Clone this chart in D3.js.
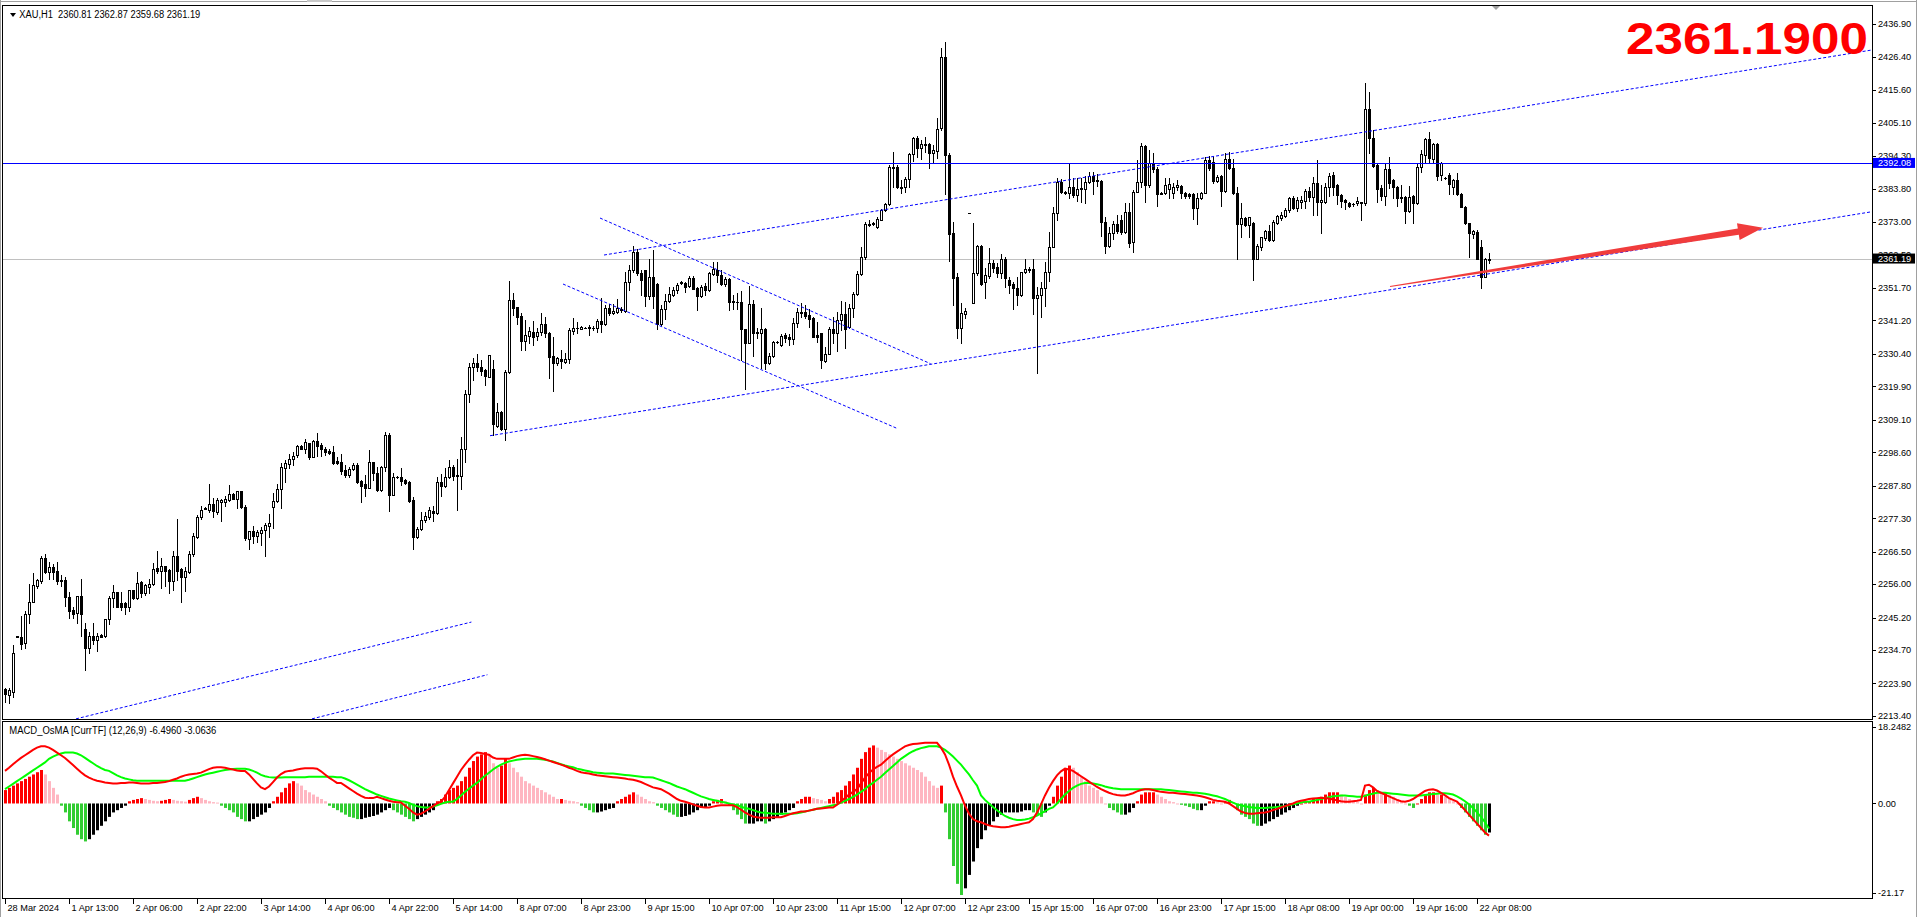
<!DOCTYPE html>
<html><head><meta charset="utf-8">
<script src="https://cdn.jsdelivr.net/npm/d3@7"></script>
<style>
html,body{margin:0;padding:0;background:#fff;overflow:hidden}
svg{display:block}
text{font-family:Tahoma,"Liberation Sans",Arial,sans-serif;white-space:pre}
</style></head><body>
<svg id="c" width="1920" height="917"></svg>
<script>
// ---------------- DATA ----------------
const open=[2222.0,2220.3,2221.2,2239.1,2238.8,2237.1,2246.2,2250.1,2255.5,2257.0,
2264.4,2260.0,2261.5,2260.2,2257.2,2257.2,2251.7,2247.8,2246.7,2252.3,
2241.4,2235.4,2239.4,2237.8,2239.5,2239.2,2244.6,2251.6,2253.6,2250.0,
2249.8,2248.6,2254.0,2251.4,2256.6,2253.2,2255.2,2255.9,2261.1,2260.3,
2261.8,2260.5,2257.1,2265.1,2260.9,2258.4,2260.0,2265.6,2271.3,2277.6,
2280.6,2280.1,2281.8,2279.3,2282.5,2282.4,2283.2,2285.1,2283.6,2286.1,
2280.8,2270.7,2273.1,2271.7,2272.4,2273.5,2274.9,2280.8,2282.8,2286.7,
2293.6,2294.7,2296.3,2297.6,2300.6,2299.8,2301.7,2297.2,2302.2,2301.1,
2299.5,2299.0,2298.7,2295.7,2295.5,2292.8,2291.2,2293.2,2294.5,2289.4,
2288.3,2286.9,2295.3,2292.0,2286.4,2293.7,2304.2,2284.8,2290.7,2290.5,
2289.6,2288.9,2283.2,2271.3,2273.7,2276.6,2277.8,2279.7,2278.9,2288.9,
2287.8,2290.7,2293.9,2291.2,2290.9,2299.5,2317.3,2326.0,2327.3,2326.2,
2325.1,2323.0,2325.5,2307.2,2311.7,2306.0,2324.4,2347.8,2345.4,2342.6,
2334.6,2336.3,2337.6,2336.1,2337.6,2340.2,2337.0,2329.7,2327.3,2328.7,
2327.9,2328.6,2337.9,2338.9,2338.5,2338.9,2339.0,2338.9,2338.6,2341.0,
2339.9,2345.1,2343.7,2344.0,2344.6,2344.4,2353.7,2357.5,2363.2,2356.4,
2357.5,2349.1,2355.1,2352.9,2340.2,2344.8,2347.5,2349.4,2351.0,2353.7,
2353.2,2352.3,2354.8,2351.8,2349.1,2352.3,2351.0,2356.1,2357.5,2355.9,
2352.9,2354.5,2347.5,2347.3,2347.2,2338.3,2334.0,2346.4,2337.3,2337.0,
2338.4,2327.5,2329.7,2334.3,2333.2,2336.5,2335.7,2335.1,2340.4,2343.5,
2344.0,2342.9,2342.0,2336.5,2337.0,2328.2,2330.5,2338.3,2337.0,2341.3,
2343.2,2339.2,2345.1,2349.7,2356.2,2361.6,2372.4,2372.6,2371.5,2373.8,
2376.9,2378.8,2390.9,2390.9,2384.2,2384.2,2386.9,2394.9,2400.0,2396.8,
2398.2,2398.2,2395.4,2396.0,2403.4,2426.2,2394.8,2369.3,2355.1,2338.6,
2343.3,2375.8,2346.9,2356.4,2365.2,2353.5,2355.7,2359.6,2358.3,2356.4,
2361.2,2354.3,2352.9,2351.6,2349.4,2356.7,2357.7,2357.7,2348.3,2349.4,
2351.6,2356.9,2365.0,2375.8,2386.0,2382.6,2382.5,2384.4,2381.7,2384.0,
2383.6,2386.0,2388.0,2386.5,2386.4,2372.9,2365.4,2369.3,2372.3,2373.8,
2369.9,2376.3,2366.4,2382.8,2386.0,2397.5,2384.9,2391.9,2390.0,2382.4,
2382.3,2383.6,2382.5,2384.2,2384.6,2382.3,2382.0,2382.0,2377.6,2380.6,
2382.5,2393.0,2392.5,2386.3,2387.8,2383.1,2393.2,2390.3,2382.5,2372.2,
2374.4,2372.0,2372.8,2361.2,2365.0,2367.7,2370.1,2367.2,2372.8,2374.2,
2375.0,2376.9,2380.9,2377.6,2379.6,2379.8,2383.1,2381.2,2385.5,2379.4,
2379.6,2384.4,2388.2,2384.9,2381.7,2380.1,2379.2,2378.9,2379.0,2379.6,
2379.2,2409.4,2400.2,2391.4,2383.9,2381.4,2390.0,2386.5,2384.4,2381.2,
2381.2,2376.7,2381.4,2379.0,2390.9,2394.7,2399.7,2393.2,2398.2,2388.2,
2387.3,2388.2,2384.4,2386.6,2382.0,2377.9,2372.6,2369.1,2369.9,2364.8,
2355.3,2360.81];
const high=[2222.5,2222.3,2236.3,2239.2,2245.7,2247.3,2256.2,2259.5,2257.5,2265.1,
2265.7,2263.2,2262.5,2263.0,2258.9,2258.2,2253.3,2248.7,2252.3,2257.6,
2243.6,2240.5,2243.3,2240.1,2240.0,2244.6,2252.1,2255.7,2253.6,2253.6,
2250.3,2254.0,2254.0,2259.8,2257.0,2256.2,2257.5,2262.7,2266.7,2264.6,
2262.0,2261.0,2266.8,2277.0,2261.1,2261.6,2266.7,2272.6,2278.3,2281.2,
2280.8,2288.3,2283.7,2283.9,2283.5,2284.6,2288.0,2285.3,2286.1,2286.1,
2281.5,2273.1,2274.8,2273.5,2274.5,2275.8,2278.8,2285.4,2288.2,2295.0,
2296.1,2297.9,2298.8,2301.1,2300.8,2302.9,2301.7,2302.5,2304.9,2301.5,
2300.4,2299.5,2300.6,2297.2,2297.9,2294.5,2294.0,2295.2,2295.0,2289.8,
2291.2,2299.3,2295.5,2294.0,2294.1,2305.2,2304.9,2291.8,2291.0,2293.4,
2290.0,2289.4,2284.0,2274.5,2279.2,2279.4,2281.0,2281.2,2290.5,2291.6,
2293.4,2296.1,2294.5,2296.3,2303.6,2318.7,2327.5,2328.9,2330.3,2328.4,
2325.4,2330.0,2328.4,2314.4,2311.9,2325.2,2353.9,2350.2,2345.6,2343.7,
2341.3,2339.2,2341.0,2338.6,2343.5,2342.4,2337.6,2335.7,2329.5,2331.6,
2330.6,2338.6,2341.9,2340.8,2339.4,2339.2,2339.7,2339.4,2341.5,2348.3,
2346.2,2346.5,2346.5,2348.0,2345.5,2356.9,2359.1,2365.2,2364.2,2357.5,
2357.5,2360.9,2364.1,2353.2,2346.2,2349.7,2352.1,2352.1,2353.2,2354.0,
2353.7,2355.5,2355.5,2352.1,2352.6,2353.2,2356.9,2360.1,2360.1,2357.5,
2355.3,2354.8,2349.4,2349.9,2350.8,2338.5,2352.3,2347.8,2338.9,2345.1,
2338.9,2330.8,2334.6,2334.6,2336.7,2337.0,2336.8,2342.1,2345.3,2346.7,
2346.2,2344.8,2342.4,2340.8,2337.2,2332.7,2339.2,2342.4,2344.0,2347.5,
2347.2,2346.5,2350.3,2357.3,2364.8,2373.0,2373.5,2373.0,2374.7,2377.2,
2379.2,2391.4,2395.7,2391.4,2386.6,2387.6,2395.4,2400.6,2400.8,2399.5,
2400.4,2398.4,2397.9,2406.5,2429.1,2431.2,2395.2,2373.1,2356.6,2346.7,
2345.1,2375.8,2372.8,2365.6,2365.6,2358.0,2364.5,2360.7,2359.6,2362.6,
2361.8,2355.3,2353.7,2355.3,2356.9,2361.2,2358.3,2360.9,2352.1,2353.7,
2360.2,2369.9,2377.9,2387.1,2386.9,2382.9,2392.2,2387.3,2387.3,2387.1,
2387.9,2389.3,2389.3,2388.5,2386.6,2374.7,2371.5,2373.4,2375.2,2375.2,
2379.0,2379.0,2383.3,2393.0,2398.4,2397.9,2396.2,2395.2,2390.9,2382.6,
2387.1,2387.1,2385.5,2386.6,2384.9,2382.8,2382.5,2382.3,2382.3,2382.8,
2393.9,2394.4,2394.3,2388.2,2388.2,2395.2,2395.7,2393.2,2384.4,2379.0,
2374.7,2374.7,2373.1,2365.9,2368.2,2370.4,2372.0,2373.6,2375.3,2376.3,
2377.4,2381.2,2381.4,2381.0,2381.4,2383.5,2384.2,2387.4,2393.0,2384.9,
2385.5,2388.7,2389.3,2385.2,2382.0,2380.3,2379.6,2379.2,2381.2,2379.6,
2418.0,2415.1,2402.7,2391.7,2384.9,2392.2,2394.0,2386.8,2384.6,2384.9,
2381.4,2384.6,2381.7,2392.0,2396.3,2400.0,2402.2,2398.4,2398.4,2392.5,
2387.5,2388.7,2386.8,2388.7,2382.3,2378.2,2372.8,2370.4,2370.4,2367.2,
2361.3,2362.87];
const low=[2218.0,2217.7,2219.6,2238.8,2234.9,2235.4,2243.6,2250.1,2254.8,2256.5,
2259.5,2257.7,2257.8,2256.2,2255.5,2249.0,2245.2,2245.2,2243.3,2239.2,
2228.4,2233.6,2236.8,2234.5,2238.8,2238.8,2243.1,2248.5,2248.5,2247.8,
2246.4,2247.4,2251.1,2251.2,2251.9,2252.5,2253.0,2255.7,2259.5,2254.8,
2255.5,2253.0,2254.1,2257.3,2250.3,2253.9,2259.5,2265.0,2270.8,2277.2,
2280.2,2279.4,2277.8,2278.8,2276.5,2281.2,2282.9,2283.6,2280.7,2280.5,
2270.4,2267.4,2269.4,2269.5,2268.5,2265.2,2271.3,2274.0,2282.4,2280.7,
2288.9,2293.6,2294.5,2297.2,2299.5,2298.4,2296.3,2297.0,2297.4,2297.4,
2297.7,2297.9,2294.8,2294.8,2291.6,2290.7,2290.7,2292.9,2288.8,2282.6,
2284.4,2286.9,2289.6,2286.2,2286.2,2292.6,2279.7,2284.8,2290.3,2288.0,
2288.3,2282.6,2267.4,2270.8,2273.5,2276.2,2276.9,2276.5,2278.6,2284.6,
2287.5,2290.2,2289.8,2279.9,2286.6,2295.5,2314.9,2322.1,2324.9,2323.6,
2320.3,2322.8,2304.2,2306.9,2305.8,2302.5,2324.1,2342.9,2339.9,2331.6,
2331.6,2333.8,2333.2,2334.9,2336.5,2335.9,2322.7,2318.5,2326.8,2325.7,
2327.3,2327.5,2336.8,2337.0,2338.3,2338.6,2336.5,2338.1,2337.6,2337.6,
2339.7,2342.9,2343.3,2343.5,2343.9,2344.0,2351.0,2356.9,2355.9,2349.4,
2345.9,2348.0,2345.1,2338.3,2339.7,2341.5,2347.3,2349.1,2350.0,2353.0,
2350.5,2352.1,2351.2,2344.6,2348.9,2349.4,2350.8,2355.9,2353.7,2352.6,
2352.3,2344.6,2344.8,2344.8,2328.4,2319.2,2334.0,2329.8,2335.4,2325.7,
2325.4,2327.1,2329.5,2333.9,2332.9,2334.3,2333.2,2333.6,2339.2,2342.4,
2341.9,2339.0,2335.7,2334.3,2325.7,2327.9,2330.3,2334.0,2331.4,2338.1,
2332.2,2338.6,2342.4,2349.4,2355.9,2361.0,2371.8,2372.0,2370.9,2373.6,
2376.7,2378.5,2384.4,2383.9,2382.5,2382.8,2384.4,2392.8,2394.1,2393.2,
2395.7,2390.3,2391.9,2393.6,2402.7,2382.2,2360.5,2346.2,2335.4,2333.8,
2341.9,2375.8,2346.9,2355.9,2352.6,2348.3,2354.8,2356.9,2355.1,2354.8,
2352.1,2349.9,2344.8,2346.2,2349.1,2356.4,2356.9,2343.3,2324.1,2342.4,
2345.9,2354.0,2365.0,2373.6,2382.3,2382.2,2380.6,2381.2,2379.9,2379.6,
2379.2,2385.7,2382.0,2384.6,2368.6,2362.9,2365.0,2367.4,2369.3,2369.1,
2369.3,2365.0,2363.4,2382.6,2384.4,2379.5,2384.4,2389.2,2378.2,2382.0,
2382.0,2380.6,2380.6,2383.3,2380.9,2380.6,2380.6,2373.9,2372.3,2380.3,
2382.3,2389.8,2385.5,2386.0,2378.2,2382.6,2390.0,2382.0,2360.9,2368.2,
2371.7,2368.2,2354.2,2360.9,2363.9,2367.2,2367.0,2367.0,2372.4,2373.6,
2374.7,2376.3,2377.2,2376.5,2377.4,2377.4,2379.9,2375.3,2375.3,2369.5,
2379.2,2381.4,2381.7,2378.8,2377.7,2377.1,2377.7,2378.3,2378.5,2373.6,
2378.5,2395.2,2390.9,2379.6,2380.1,2378.5,2384.0,2380.6,2378.2,2379.6,
2372.8,2376.3,2372.8,2378.8,2389.3,2392.2,2392.5,2392.5,2386.6,2386.6,
2386.9,2382.0,2382.2,2381.7,2377.7,2372.3,2361.8,2367.7,2361.2,2351.6,
2355.1,2359.68];
const close=[2220.5,2221.8,2233.9,2238.9,2236.8,2246.5,2250.1,2255.7,2257.2,2264.4,
2260.0,2261.5,2260.0,2257.0,2257.1,2251.7,2247.4,2246.3,2252.3,2246.4,
2235.4,2239.4,2237.8,2239.2,2239.0,2244.6,2251.4,2253.3,2248.5,2248.7,
2248.7,2254.0,2251.4,2256.5,2253.2,2255.7,2256.2,2260.9,2260.3,2261.9,
2260.3,2257.1,2265.1,2260.3,2258.4,2260.2,2265.6,2271.5,2277.6,2280.1,
2280.4,2281.8,2279.7,2283.2,2283.2,2283.5,2285.0,2283.6,2286.1,2280.8,
2271.0,2273.1,2271.7,2272.8,2273.5,2275.0,2275.6,2282.8,2286.7,2293.8,
2295.1,2296.3,2297.4,2300.6,2299.8,2301.8,2297.2,2302.2,2300.6,2299.5,
2298.8,2298.5,2295.0,2295.2,2292.6,2291.2,2293.1,2294.5,2289.1,2287.7,
2286.9,2295.3,2291.8,2286.4,2293.7,2304.2,2284.8,2290.7,2290.5,2289.4,
2288.8,2282.9,2271.3,2273.7,2276.7,2278.0,2279.9,2278.9,2288.9,2287.8,
2290.7,2293.7,2290.9,2290.9,2299.5,2317.3,2326.0,2327.3,2326.0,2324.9,
2323.2,2330.0,2307.6,2311.5,2306.0,2324.4,2347.8,2345.3,2342.2,2334.5,
2336.4,2337.8,2335.9,2337.6,2340.2,2337.0,2329.3,2327.3,2328.9,2328.1,
2328.7,2338.1,2338.9,2338.8,2339.2,2338.9,2338.9,2338.7,2341.0,2339.9,
2345.1,2343.7,2344.3,2345.1,2344.8,2353.7,2357.5,2363.2,2356.4,2354.2,
2349.1,2355.1,2349.1,2340.2,2344.8,2347.5,2349.7,2351.0,2352.6,2353.3,
2352.1,2354.8,2351.2,2349.1,2352.1,2351.0,2356.4,2357.8,2355.9,2352.9,
2354.5,2347.2,2347.0,2347.0,2338.3,2334.0,2346.4,2337.0,2337.2,2338.4,
2327.5,2329.8,2334.1,2334.2,2336.2,2335.4,2335.1,2340.4,2344.0,2344.0,
2342.6,2341.5,2335.9,2335.9,2328.4,2330.5,2338.3,2337.0,2341.3,2343.2,
2338.3,2345.1,2349.7,2356.2,2361.6,2372.4,2372.0,2372.3,2373.9,2376.9,
2378.8,2390.9,2390.6,2384.2,2384.0,2386.9,2394.9,2400.0,2396.8,2398.2,
2398.0,2395.4,2396.3,2402.9,2426.2,2394.8,2369.0,2355.0,2338.6,2343.5,
2344.2,2375.8,2356.4,2365.2,2353.1,2355.9,2359.6,2358.0,2356.6,2361.2,
2354.8,2352.6,2351.6,2349.4,2356.7,2357.7,2357.6,2348.6,2349.4,2351.6,
2356.9,2365.0,2375.8,2386.0,2382.6,2382.5,2384.4,2381.7,2383.5,2383.5,
2386.0,2388.0,2386.4,2386.3,2373.1,2365.4,2369.3,2372.2,2370.2,2369.7,
2376.3,2366.1,2382.8,2386.0,2397.5,2384.9,2391.9,2390.0,2382.2,2382.2,
2384.9,2385.3,2384.4,2384.9,2382.3,2381.5,2381.5,2377.6,2380.6,2382.5,
2393.0,2390.5,2386.2,2387.4,2383.1,2393.2,2390.3,2382.5,2372.2,2374.4,
2372.0,2374.5,2360.9,2365.2,2368.0,2370.1,2367.2,2373.1,2374.9,2375.2,
2376.9,2380.9,2377.6,2380.1,2380.1,2383.1,2381.2,2385.5,2379.6,2380.1,
2384.4,2387.9,2384.4,2381.7,2379.9,2379.3,2378.3,2378.8,2379.9,2379.0,
2409.4,2400.2,2391.2,2383.5,2381.4,2390.0,2385.5,2384.4,2380.9,2380.6,
2376.7,2381.2,2379.0,2390.9,2395.0,2399.7,2393.6,2398.2,2387.9,2392.2,
2387.1,2385.3,2386.6,2382.0,2377.9,2372.6,2369.3,2370.1,2361.2,2355.3,
2360.9,2361.19];

// MACD_OsMA indicator buffers
const osma=[3,3.5,4,4.5,5,5.5,6,6.5,7,7.5,
6.5,5,3.5,2,-0.5,-2,-4,-5.5,-7,-8,
-8.5,-8,-7,-6,-5,-4,-3,-2,-1.5,-1,
-0.5,0.5,0.8,1,1.2,1,0.8,0.6,0.5,0.6,
0.8,1,0.8,0.6,0.5,0.4,0.8,1.2,1.5,1.2,
0.8,0.5,0.3,0.2,-0.5,-1,-1.5,-2,-3,-3.5,
-4,-4,-3.5,-3,-2.5,-2,-1,0.5,1.5,2.5,
3.5,4.5,5,4.5,4,3,2.5,2,1.5,1,
0.5,-0.5,-1,-1.5,-2,-2.5,-3,-3.2,-3.5,-3.5,
-3.2,-3,-2.8,-2.5,-2,-1.5,-1,-1.5,-2,-2.5,
-3,-3.5,-4,-3.5,-3,-2.5,-2,-1.5,0.5,1,
2,3,3.5,4,5,6,8,9.5,10.5,11,
11.5,11,9,8,8.5,10,9,8,7,6,
5,4.5,4,3.5,3,2.5,2,1.5,1,1,
0.8,0.6,0.5,0.3,-0.5,-1,-1.5,-2,-2,-1.8,
-1.5,-1.2,-1,0.5,1,1.5,2,2.5,2,1.5,
1,0.5,0.3,-0.5,-1,-1.5,-2,-2.5,-3,-3,
-2.8,-2.5,-2,-1.5,-1,-0.8,-0.5,0.5,0.8,1,
0.5,-0.5,-1.5,-2.5,-3.5,-4.5,-4.5,-4.5,-4,-4,
-4.5,-4,-3.5,-3,-2.5,-2,-1.5,-1,0.5,1,
1.5,1.5,1.2,1,0.8,0.5,1,1.5,2.5,3,
4,5,6.5,8,10,11.5,12.5,13,12.5,12,
11.5,11,10.5,10,9.5,9,8.5,8,7.5,7,
6,5,4,3.5,4,-2,-8,-14,-18,-20.5,
-19,-16,-13,-10,-8,-6,-5,-4,-3,-2.5,
-2,-2,-2,-2,-1.8,-1.5,-1.5,-2,-2.5,-3,
-2,-0.5,1.5,4,6,7.5,8.5,8,7,6,
5,4,3.5,3,1.5,0,-1,-1.5,-2,-2.5,
-2.5,-2,-1,0.5,2,2.5,2.5,2.5,2,1.5,
1,0.5,0.3,0,-0.3,-0.5,-0.8,-1.2,-1.5,-1.5,
-0.5,0.5,0.5,0.3,0,0.3,0.8,0.3,-1.5,-2.5,
-3,-3.5,-4.5,-5,-5,-4.5,-4,-3.5,-3,-2.5,
-2,-1.5,-1,-0.5,0,0.5,0.5,1,1,1.5,
2,2.5,2.5,2.5,2,1.5,1,0.5,0.3,0,
2,3,3.5,3,2.5,2.5,2,1.5,1,0.5,
0,-0.5,-1,0,1,2,2.5,2.5,2,2,
1.5,1,0.5,0,-1,-2,-3,-4,-5,-6,
-7,-6.5];
const macdLine=[7.3,8,8.8,9.5,10.2,10.8,11.4,12,12.5,12.8,
12.8,12.5,12,11.4,10.8,10.2,9.4,8.6,7.8,7,
6.3,5.8,5.4,5.1,4.9,4.7,4.6,4.5,4.5,4.6,
4.6,4.7,4.7,4.6,4.5,4.5,4.5,4.6,4.6,4.7,
4.8,5,5.3,5.6,6,6.3,6.5,6.6,6.7,6.9,
7.3,7.7,8,8.1,8.1,8,7.8,7.6,7.4,7.3,
7.3,6.5,5.5,4.5,3.6,3.2,3.8,4.8,5.8,6.6,
7.1,7.3,7.4,7.6,7.8,7.9,7.9,7.9,7.8,7.2,
6.5,5.8,5.2,4.6,4.6,4,3.4,2.8,2.2,1.7,
1.3,1.2,1.2,1.5,1.2,0.9,0.6,0.4,0.3,0.2,
-0.5,-1.2,-2,-2.5,-2.3,-1.8,-1.2,-0.6,0,0.4,
1.5,3,4.5,6,7.5,8.7,9.8,10.8,11.4,11.3,
11.1,10.9,10.3,10,10,10,10,10.3,10.6,10.8,
10.9,10.8,10.6,10.4,10.2,9.9,9.6,9.3,9,8.7,
8.4,8,7.7,7.3,7,6.8,6.7,6.5,6.3,6.2,
6.1,6,5.9,5.8,5.7,5.6,5.4,5.3,5.1,4.8,
4.4,4,3.6,3.4,3.2,2.7,2.2,1.6,1,0.6,
0.4,0.1,-0.2,-0.5,-0.8,-0.9,-0.9,-0.7,-0.5,-0.4,
-0.4,-0.4,-0.4,-0.8,-1.4,-2,-2.5,-2.9,-3.1,-3.2,
-3.2,-3.2,-3.1,-3.1,-3.1,-2.8,-2.5,-2.2,-2,-1.8,
-1.8,-1.6,-1.4,-1.2,-1.1,-1,-0.9,-0.9,-0.3,0.5,
1.2,2,2.6,3.2,4.5,5.8,6.8,7.6,8.2,8.7,
9.5,10.3,11,11.6,12.2,12.8,13.1,13.3,13.4,13.5,
13.6,13.6,13.6,13.6,12.5,11,8.7,6,3.8,1.8,
-0.5,-2.3,-3.5,-4,-4.2,-4.6,-4.9,-5.1,-5.2,-5.3,
-5.3,-5.2,-5,-4.8,-4.6,-4.4,-4.2,-3.5,-2,-0.2,
1.8,3.5,5,6.3,7.2,7.8,7.6,7.3,6.7,6.1,
5.5,4.9,4.3,3.7,3.2,2.8,2.4,2.1,1.9,1.8,
1.8,2,2.3,2.7,3,3.2,3.2,3,2.8,2.6,
2.5,2.4,2.4,2.3,2.2,2.1,2,1.9,1.8,1.6,
1.4,1.1,0.8,0.6,0.5,0.4,0,-0.6,-1.2,-1.8,
-2.1,-2.3,-2.3,-2.2,-2.1,-2,-1.8,-1.5,-1.2,-0.9,
-0.6,-0.3,0,0.4,0.6,0.8,1,1.1,1.2,1.3,
1.2,1.1,0.9,0.7,0.5,0.4,0.4,0.5,0.6,0.8,
4,4.2,3.6,2.8,2.4,2,1.6,1.2,0.8,0.5,
0.4,0.6,1,1.6,2.2,2.8,3.1,3.2,2.9,2.4,
1.8,1.2,0.8,0.4,-0.5,-1.5,-2.5,-3.5,-4.5,-5.5,
-6.5,-7.2];
const signalLine=[3.2,3.8,4.4,5,5.6,6.2,6.8,7.4,8,8.6,
9.2,10,10.5,10.9,11.2,11.4,11.4,11.4,11.2,10.8,
10.2,9.6,9,8.4,7.9,7.5,7.3,6.8,6.3,5.9,
5.6,5.4,5.2,5.1,5.1,5.1,5.1,5.1,5.1,5.1,
5.1,5.1,5.1,5.1,5.1,5.1,5.3,5.6,5.9,6.2,
6.5,6.7,6.9,7.1,7.3,7.5,7.6,7.7,7.8,7.8,
7.8,7.6,7.3,6.9,6.4,6.1,5.9,5.8,5.8,5.8,
5.9,5.9,5.9,5.9,5.9,5.9,6,6,6,6,
6,6,6,5.9,5.9,5.6,5.2,4.7,4.2,3.7,
3.2,2.8,2.4,2,1.7,1.4,1.1,0.9,0.7,0.5,
0.4,0.1,-0.3,-0.6,-0.8,-0.9,-0.9,-0.7,-0.4,-0.1,
0.2,0.4,0.4,1,1.8,2.6,3.3,4,4.6,5.4,
6.2,6.9,7.6,8.2,8.7,9.1,9.4,9.6,9.8,9.9,
10,10,10,10,9.9,9.8,9.6,9.4,9.1,8.8,
8.5,8.3,8.1,7.8,7.6,7.4,7.2,7,6.9,6.8,
6.7,6.7,6.7,6.6,6.5,6.4,6.3,6.2,6.1,6,
5.9,5.9,5.8,5.5,5.2,4.9,4.6,4.2,3.8,3.5,
3.2,2.8,2.4,2,1.6,1.3,1,0.8,0.6,0.4,
0.2,0,-0.2,-0.4,-0.7,-1,-1.2,-1.5,-1.8,-2,
-2.1,-2.2,-2.3,-2.3,-2.3,-2.3,-2.3,-2.3,-2.2,-2,
-1.8,-1.6,-1.4,-1.2,-1,-0.8,-0.6,-0.4,-0.2,0.2,
0.6,1,1.5,2,2.6,3.2,4,4.6,5.3,6,
6.8,7.6,8.4,9.2,10,10.6,11.2,11.7,12.1,12.4,
12.6,12.8,12.8,12.8,12.5,12,11.3,10.5,9.6,8.7,
7.6,6.5,5.2,4,1.8,0.8,0,-0.8,-1.5,-2.2,
-2.8,-3.2,-3.5,-3.7,-3.7,-3.6,-3.4,-3.1,-2.7,-2.2,
-1.7,-1.2,-0.9,0,1,2,2.8,3.5,4,4.4,
4.6,4.6,4.5,4.3,4.1,3.8,3.6,3.4,3.3,3.2,
3.2,3.2,3.2,3.2,3.2,3.2,3.2,3.2,3.2,3.2,
3.1,3,2.9,2.8,2.7,2.6,2.5,2.4,2.4,2.3,
2.2,2,1.8,1.6,1.3,1,0.6,0.2,-0.2,-0.4,
-0.6,-0.8,-0.9,-1,-1,-1,-0.9,-0.9,-0.8,-0.7,
-0.6,-0.4,-0.2,0,0.2,0.4,0.4,0.6,0.8,1,
1.2,1.4,1.6,1.7,1.8,1.8,1.7,1.6,1.5,1.5,
1.7,2,2.2,2.4,2.4,2.4,2.3,2.2,2.1,2,
1.9,1.8,1.8,1.8,1.8,1.9,2,2.1,2.2,2.3,
2.3,2.2,2,1.6,1.1,0.5,-0.2,-1,-2,-3,
-4.2,-5.6];

const priceTicks=[2436.90,2426.40,2415.60,2405.10,2394.30,2383.80,2373.00,2362.50,2351.70,2341.20,2330.40,2319.90,2309.10,2298.60,2287.80,2277.30,2266.50,2256.00,2245.20,2234.70,2223.90,2213.40];
const macdTicks=[18.2482,0,-21.17];
const macdTickText=["18.2482","0.00","-21.17"];
const timeLabels=["28 Mar 2024","1 Apr 13:00","2 Apr 06:00","2 Apr 22:00","3 Apr 14:00","4 Apr 06:00","4 Apr 22:00","5 Apr 14:00","8 Apr 07:00","8 Apr 23:00","9 Apr 15:00","10 Apr 07:00","10 Apr 23:00","11 Apr 15:00","12 Apr 07:00","12 Apr 23:00","15 Apr 15:00","16 Apr 07:00","16 Apr 23:00","17 Apr 15:00","18 Apr 08:00","19 Apr 00:00","19 Apr 16:00","22 Apr 08:00"];
const timeLabelBars=[0,16,32,48,64,80,96,112,128,144,160,176,192,208,224,240,256,272,288,304,320,336,352,368];

// chart objects: [bar, price] endpoints
const trendLines=[
  [[149.75,2362.33],[466.75,2428.57]],
  [[121.25,2303.95],[466.75,2376.32]],
  [[148.75,2374.28],[231.4,2327.21]],
  [[139.5,2352.96],[223.15,2306.24]],
  [[17.75,2212.48],[116.6,2243.75]],
  [[76.75,2212.48],[120.6,2226.73]]
];
const hLineLevel=2392.08;
const bidLevel=2361.19;
const arrowFrom=[346.25,2352.15], arrowTo=[439.5,2371.12];
const headerText="XAU,H1  2360.81 2362.87 2359.68 2361.19";
const macdHeader="MACD_OsMA [CurrTF] (12,26,9) -6.4960 -3.0636";
const bigPrice="2361.1900";

// ---------------- LAYOUT ----------------
const L=3,R=1872,mainTop=6,mainBot=719,mTop=722,mBot=898;
const svg=d3.select('#c');
const x=d3.scaleLinear().domain([0,466.75]).range([5,1872]);
const y=d3.scaleLinear().domain([2213.4,2426.4]).range([716,56.7]);
const ym=d3.scaleLinear().domain([-21.17,18.2482]).range([898,722]);

const defs=svg.append('defs');
defs.append('clipPath').attr('id','cm').append('rect').attr('x',L).attr('y',mainTop).attr('width',R-L).attr('height',mainBot-mainTop);
defs.append('clipPath').attr('id','cmd').append('rect').attr('x',L).attr('y',mTop).attr('width',R-L).attr('height',mBot-mTop);

svg.append('rect').attr('width',1920).attr('height',917).attr('fill','#fff');
// window edges
svg.append('line').attr('x1',0).attr('x2',1917).attr('y1',1.5).attr('y2',1.5).attr('stroke','#a0a0a0');
svg.append('line').attr('x1',0.5).attr('x2',0.5).attr('y1',0).attr('y2',917).attr('stroke','#a0a0a0');
svg.append('line').attr('x1',1916.5).attr('x2',1916.5).attr('y1',0).attr('y2',917).attr('stroke','#a0a0a0');
svg.append('rect').attr('x',307).attr('y',0).attr('width',25).attr('height',2).attr('fill','#c8c8c8');

const gMain=svg.append('g').attr('clip-path','url(#cm)');

// bid line (behind candles)
const yb=Math.round(y(bidLevel))+0.5;
gMain.append('line').attr('x1',L).attr('x2',R).attr('y1',yb).attr('y2',yb).attr('stroke','#c0c0c0');

// candles
const n=close.length;
const cg=gMain.append('g');
for(let i=0;i<n;i++){
  const cx=Math.round(x(i));
  const th=Math.round(y(high[i])), bl=Math.round(y(low[i]));
  cg.append('line').attr('x1',cx+0.5).attr('x2',cx+0.5).attr('y1',th).attr('y2',bl+1).attr('stroke','#000');
  const bt=Math.round(y(Math.max(open[i],close[i]))), bb=Math.round(y(Math.min(open[i],close[i])));
  if(bb-bt<1){
    cg.append('line').attr('x1',cx-1).attr('x2',cx+2).attr('y1',bt+0.5).attr('y2',bt+0.5).attr('stroke','#000');
  } else {
    cg.append('rect').attr('x',cx-0.5).attr('y',bt+0.5).attr('width',2).attr('height',bb-bt)
      .attr('fill',close[i]>=open[i]?'#fff':'#000').attr('stroke','#000');
  }
}

// trend lines
trendLines.forEach(t=>{
  gMain.append('line').attr('x1',x(t[0][0])).attr('y1',y(t[0][1])).attr('x2',x(t[1][0])).attr('y2',y(t[1][1]))
   .attr('stroke','#0000ff').attr('stroke-width',1).attr('stroke-dasharray','3,2');
});
// horizontal level
const yh=Math.round(y(hLineLevel))+0.5;
gMain.append('line').attr('x1',L).attr('x2',R).attr('y1',yh).attr('y2',yh).attr('stroke','#0000ff');

// red arrow
(function(){
  const S=[x(arrowFrom[0]),y(arrowFrom[1])], T=[x(arrowTo[0]),y(arrowTo[1])];
  const dx=T[0]-S[0], dy=T[1]-S[1], len=Math.hypot(dx,dy);
  const u=[dx/len,dy/len], nn=[-u[1],u[0]];
  const hl=25, hw=8.5;
  const B=[T[0]-u[0]*hl,T[1]-u[1]*hl];
  const p=(P,k)=>[P[0]+nn[0]*k,P[1]+nn[1]*k];
  const pts=[p(S,0.5),p(B,3.2),p(B,hw),T,p(B,-hw),p(B,-3.2),p(S,-0.5)];
  gMain.append('polygon').attr('points',pts.map(d=>d.join(',')).join(' ')).attr('fill','#f03c3c');
})();

// big price text
svg.append('text').attr('x',1868).attr('y',54.3).attr('text-anchor','end')
  .attr('font-family','"Liberation Sans",Arial,sans-serif').attr('font-weight','bold').attr('font-size',44)
  .attr('fill','#ff0000').attr('textLength',242).attr('lengthAdjust','spacingAndGlyphs').text(bigPrice);

// header
svg.append('polygon').attr('points','10,13 16,13 13,17').attr('fill','#000');
svg.append('text').attr('x',19.3).attr('y',18.2).attr('font-size',10).attr('fill','#000')
  .attr('textLength',181).attr('lengthAdjust','spacingAndGlyphs').text(headerText);

// shift marker
svg.append('polygon').attr('points','1492,6 1500,6 1496,10').attr('fill','#a0a0a0');

// frames
svg.append('rect').attr('x',2.5).attr('y',5.5).attr('width',1870).attr('height',714).attr('fill','none').attr('stroke','#000');
svg.append('rect').attr('x',2.5).attr('y',721.5).attr('width',1870).attr('height',177).attr('fill','none').attr('stroke','#000');

// price axis
const ax=svg.append('g');
priceTicks.forEach(v=>{
  const yy=Math.max(y(v),14.7);
  const yr=Math.round(yy)+0.5;
  ax.append('line').attr('x1',1873).attr('x2',1876).attr('y1',yr).attr('y2',yr).attr('stroke','#000');
  ax.append('text').attr('x',1878).attr('y',yy+3.3).attr('font-size',9.2).attr('fill','#000').text(v.toFixed(2));
});
// price labels
function priceLabel(v,bg){
  const yy=y(v);
  ax.append('rect').attr('x',1873).attr('y',yy-5).attr('width',42).attr('height',10).attr('fill',bg);
  ax.append('text').attr('x',1878).attr('y',yy+3.3).attr('font-size',9.2).attr('fill','#fff').text(v.toFixed(2));
}
priceLabel(hLineLevel,'#0000ff');
priceLabel(bidLevel,'#000');

// MACD panel
const gM=svg.append('g').attr('clip-path','url(#cmd)');
const y0=ym(0);
for(let i=0;i<n;i++){
  const v=osma[i], pv=i>0?osma[i-1]:v;
  let col;
  if(v>=0) col = v>=pv ? '#ff0000' : '#ffb6c1';
  else col = v<pv ? '#32cd32' : '#000000';
  const cx=Math.round(x(i));
  const yv=ym(v);
  gM.append('rect').attr('x',cx-1).attr('width',3).attr('y',Math.min(yv,y0)).attr('height',Math.max(1,Math.abs(yv-y0))).attr('fill',col);
}
const lineGen=arr=>d3.line().x((d,i)=>x(i)).y(d=>ym(d))(arr);
gM.append('path').attr('d',lineGen(signalLine)).attr('fill','none').attr('stroke','#00ff00').attr('stroke-width',2);
gM.append('path').attr('d',lineGen(macdLine)).attr('fill','none').attr('stroke','#ff0000').attr('stroke-width',2);

svg.append('text').attr('x',9.3).attr('y',733.5).attr('font-size',10).attr('fill','#000')
  .attr('textLength',207).attr('lengthAdjust','spacingAndGlyphs').text(macdHeader);

macdTicks.forEach((v,k)=>{
  let yy=ym(v); yy=Math.min(Math.max(yy,727),893);
  const yr=Math.round(yy)+0.5;
  ax.append('line').attr('x1',1873).attr('x2',1876).attr('y1',yr).attr('y2',yr).attr('stroke','#000');
  ax.append('text').attr('x',1878).attr('y',yy+3.3).attr('font-size',9.2).attr('fill','#000').text(macdTickText[k]);
});

// time axis
timeLabels.forEach((t,k)=>{
  const tx=Math.round(x(timeLabelBars[k]))+0.5;
  ax.append('line').attr('x1',tx).attr('x2',tx).attr('y1',899).attr('y2',904).attr('stroke','#000');
  ax.append('text').attr('x',tx+2).attr('y',910.5).attr('font-size',9.2).attr('fill','#000').text(t);
});
</script>
</body></html>
